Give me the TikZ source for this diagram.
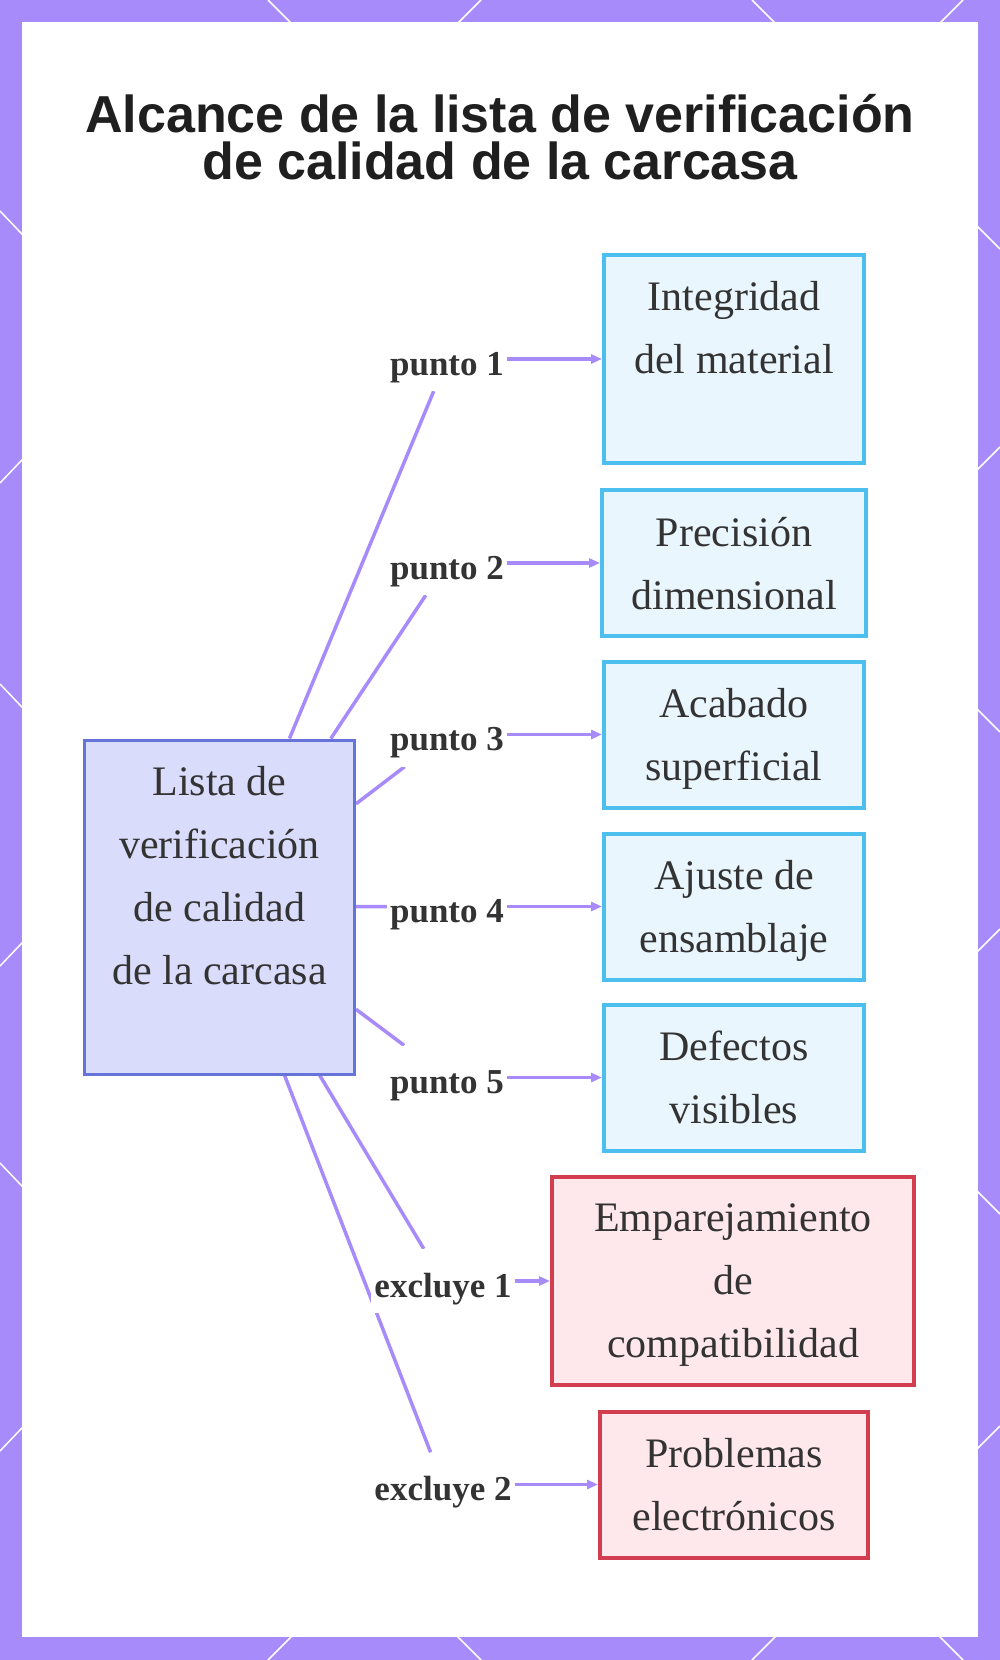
\documentclass[tikz,border=0pt]{standalone}
\usepackage{fontspec}
\setmainfont{Liberation Serif}
\newfontfamily\titlefont{Liberation Sans}
\usetikzlibrary{arrows.meta, backgrounds}

\definecolor{frameviolet}{HTML}{A78BFA}
\definecolor{wire}{HTML}{A78BFA}
\definecolor{ink}{HTML}{333333}
\definecolor{hubline}{HTML}{6674D9}
\definecolor{hubfill}{HTML}{D9DCFA}
\definecolor{itemline}{HTML}{4DBFEF}
\definecolor{itemfill}{HTML}{EAF6FE}
\definecolor{exclline}{HTML}{D23E50}
\definecolor{exclfill}{HTML}{FFE8EC}

\tikzset{
    boxtext/.style={text=ink, align=center, inner sep=0pt, text depth=0pt, font=\fontsize{42}{63}\selectfont},
    hub/.style={boxtext, draw=hubline, fill=hubfill, line width=3pt, minimum width=270pt, minimum height=334pt},
    item/.style={boxtext, draw=itemline, fill=itemfill, line width=4pt, minimum width=260pt, minimum height=146pt},
    excl/.style={item, draw=exclline, fill=exclfill},
    tag/.style={fill=white, text=ink, inner xsep=3pt, inner ysep=15pt, text height=33pt, text depth=1pt,
        font=\bfseries\fontsize{35}{42}\selectfont},
    link/.style={draw=wire, line width=3.5pt},
    feed/.style={link, -{Triangle[length=11pt,width=9pt]}},
    seam/.style={draw=white, line width=1.5pt}
}

\begin{document}
\begin{tikzpicture}[x=1pt, y=-1pt]
    \useasboundingbox (0,0) rectangle (1000,1660);

    % frame and white panel
    \begin{scope}[on background layer]
        \fill[frameviolet] (0,0) rectangle (1000,1660);
        \foreach \sx/\sy/\dx/\dy in {0/211/40/42, 0/483/40/-42, 0/684/40/42, 0/966/40/-42,
                0/1163/40/42, 0/1451/40/-42, 1000/249/-40/-40, 1000/447/-40/40,
                1000/732/-40/-40, 1000/929/-40/40, 1000/1214/-40/-40, 1000/1426/-40/40,
                268/0/40/40, 481/0/-40/40, 752/0/40/40, 963/0/-40/40,
                268/1660/40/-40, 481/1660/-40/-40, 752/1660/40/-40, 963/1660/-40/-40}
            \draw[seam] (\sx,\sy) -- ++(\dx,\dy);
        \fill[white] (22,22) rectangle (978,1637);
    \end{scope}

    \node[text=black!88, align=center, font=\titlefont\bfseries\fontsize{52}{47}\selectfont]
        (title) at (500,137) {Alcance de la lista de verificación\\ de calidad de la carcasa};

    \node[hub] (hub) at (219.5,907) {Lista de\\ verificación\\ de calidad\\ de la carcasa\\ \mbox{}};

    \node[item, minimum height=208pt] (c1) at (734,359) {Integridad\\ del material\\ \mbox{}};
    \node[item, minimum width=264pt] (c2) at (734,563) {Precisión\\ dimensional};
    \node[item] (c3) at (734,734.5) {Acabado\\ superficial};
    \node[item] (c4) at (734,906.5) {Ajuste de\\ ensamblaje};
    \node[item] (c5) at (734,1077.5) {Defectos\\ visibles};
    \node[excl, minimum width=362pt, minimum height=208pt] (e1) at (733,1281) {Emparejamiento\\ de\\ compatibilidad};
    \node[excl, minimum width=268pt] (e2) at (734,1484.5) {Problemas\\ electrónicos};

    \node[tag] (p1) at (447,359) {punto 1};
    \node[tag] (p2) at (447,563) {punto 2};
    \node[tag] (p3) at (447,734.5) {punto 3};
    \node[tag] (p4) at (447,906.5) {punto 4};
    \node[tag] (p5) at (447,1077.5) {punto 5};
    \node[tag] (x1) at (443,1281) {excluye 1};
    \node[tag] (x2) at (443,1484.5) {excluye 2};

    % spokes go under the labels
    \begin{scope}[on background layer]
        \draw[link] (hub) -- (p1);
        \draw[link] (hub) -- (p2);
        \draw[link] (hub) -- (p3);
        \draw[link] (hub) -- (p4);
        \draw[link] (hub) -- (p5);
        \draw[link] (hub) -- (x1);
        \draw[link] (hub) -- (x2);
    \end{scope}

    \draw[feed] (p1) -- (c1);
    \draw[feed] (p2) -- (c2);
    \draw[feed] (p3) -- (c3);
    \draw[feed] (p4) -- (c4);
    \draw[feed] (p5) -- (c5);
    \draw[feed] (x1) -- (e1);
    \draw[feed] (x2) -- (e2);
\end{tikzpicture}
\end{document}
